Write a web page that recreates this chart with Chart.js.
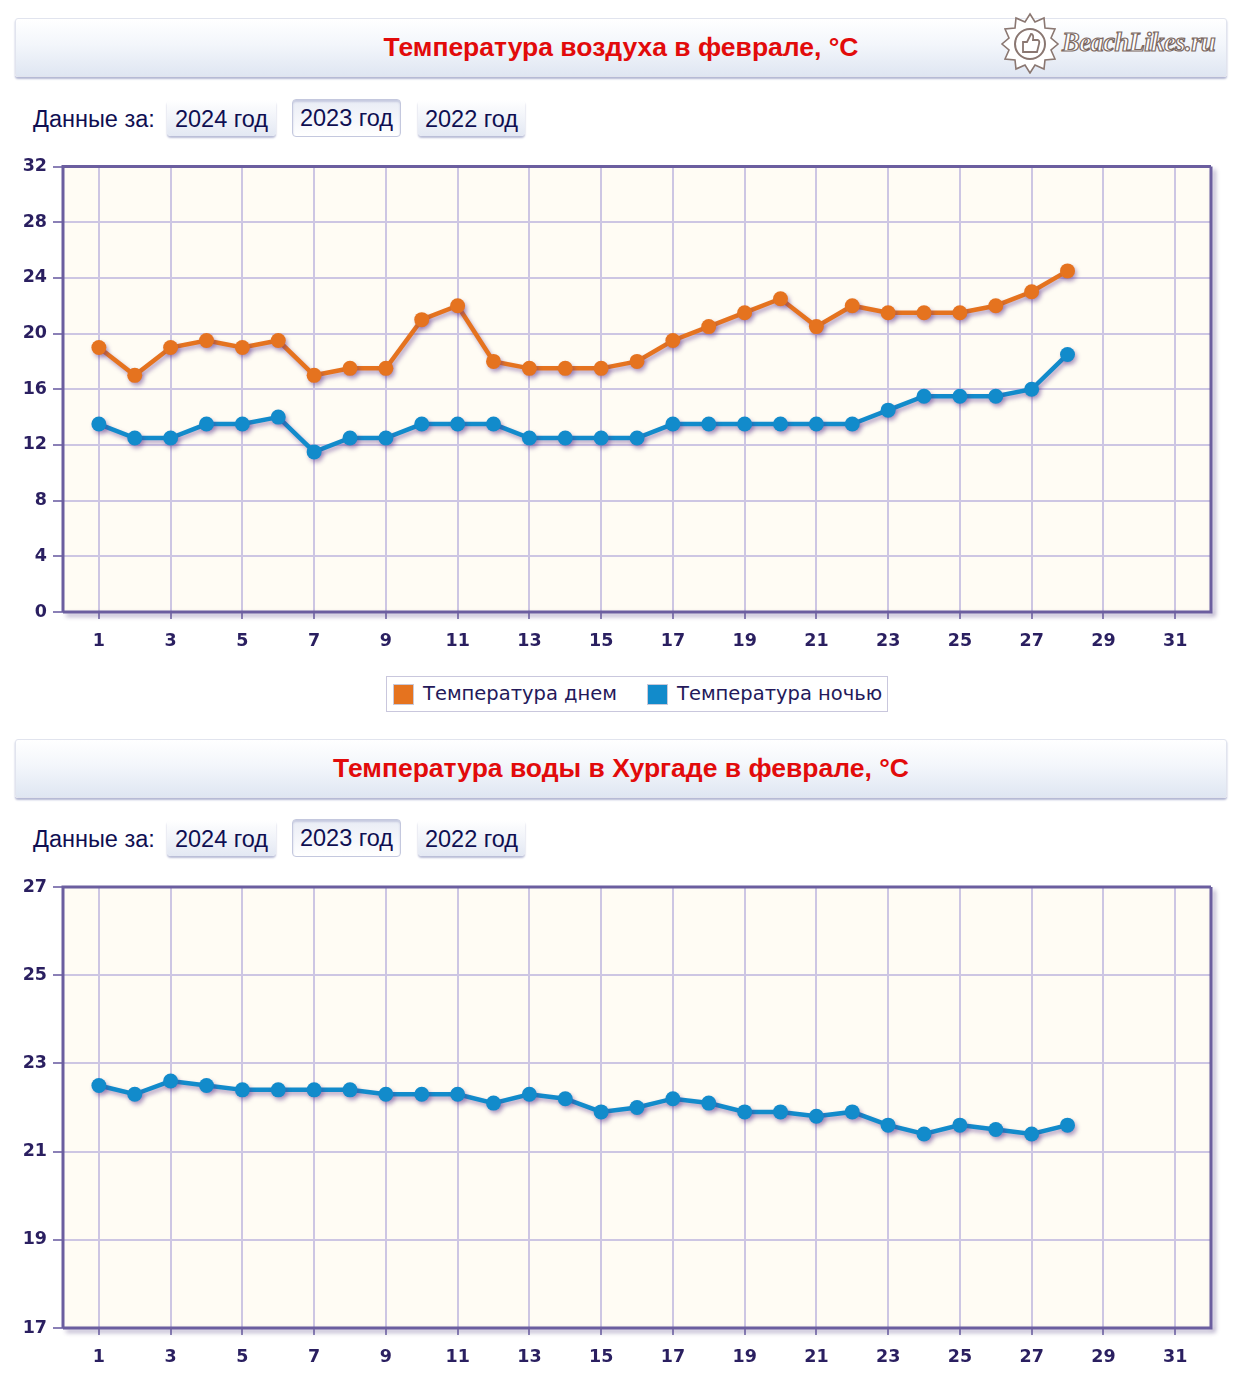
<!DOCTYPE html>
<html lang="ru">
<head>
<meta charset="utf-8">
<title>Температура в феврале</title>
<script src="https://cdn.jsdelivr.net/npm/chart.js@4.4.1/dist/chart.umd.min.js"></script>
<style>
  html, body { margin:0; padding:0; background:#ffffff; }
  body { width:1240px; height:1383px; position:relative; overflow:hidden; font-family:"Liberation Sans", Arial, sans-serif; }
  .bar { position:absolute; left:15px; width:1210px; height:57px; border:1px solid #e1e4ee; border-radius:3px;
         background:linear-gradient(#ffffff 0%, #f3f6fb 45%, #dfe6f2 100%); box-shadow:0 2px 2px #b3b7d3; }
  .bar .t { position:absolute; left:0; right:0; top:0; text-align:center; color:#e20b0b;
            font:bold 26.5px "Liberation Sans", Arial, sans-serif; line-height:56px; }
  .lbl { position:absolute; left:33px; font:23.5px "Liberation Sans", Arial, sans-serif; color:#0f0f52; }
  .btn { position:absolute; height:36px; text-align:center; font:23.5px "Liberation Sans", Arial, sans-serif; line-height:38px; color:#0f0f52;
         border-radius:4px; background:linear-gradient(#ffffff, #e3e8f3); box-shadow:0 2px 2px #b8bcd6; }
  .btn.sel { background:linear-gradient(#e9ecf5, #ffffff); border:1px solid #c4c8de; box-shadow:inset 0 2px 2px #c7cbe0; line-height:37px; }
  .cv { position:absolute; left:0; }
  .legend { position:absolute; left:386px; top:676px; width:500px; height:34px; border:1px solid #c9c7dd; background:#fff;
            font:19.5px "DejaVu Sans", Verdana, sans-serif; color:#24195a; }
  .legend span.sq { position:absolute; top:7px; width:19px; height:19px; border:1px solid #c9c9d9; }
  .legend span.tx { position:absolute; top:5px; }
  .logo { position:absolute; left:1000px; top:12px; width:230px; height:62px; }
  .logo .name { position:absolute; left:62px; top:15px; font:italic bold 26.5px "Liberation Serif", serif; color:#ffffff;
                -webkit-text-stroke:1.2px #7b6862; letter-spacing:-0.5px; }
</style>
</head>
<body>
<script>
// ---------- data ----------
const days = [1,2,3,4,5,6,7,8,9,10,11,12,13,14,15,16,17,18,19,20,21,22,23,24,25,26,27,28];
const xTickLabels = [1,3,5,7,9,11,13,15,17,19,21,23,25,27,29,31];
const airDayTemp   = [19,17,19,19.5,19,19.5,17,17.5,17.5,21,22,18,17.5,17.5,17.5,18,19.5,20.5,21.5,22.5,20.5,22,21.5,21.5,21.5,22,23,24.5];
const airNightTemp = [13.5,12.5,12.5,13.5,13.5,14,11.5,12.5,12.5,13.5,13.5,13.5,12.5,12.5,12.5,12.5,13.5,13.5,13.5,13.5,13.5,13.5,14.5,15.5,15.5,15.5,16,18.5];
const waterTemp    = [22.5,22.3,22.6,22.5,22.4,22.4,22.4,22.4,22.3,22.3,22.3,22.1,22.3,22.2,21.9,22.0,22.2,22.1,21.9,21.9,21.8,21.9,21.6,21.4,21.6,21.5,21.4,21.6];
const airYTicks   = [0,4,8,12,16,20,24,28,32];
const waterYTicks = [17,19,21,23,25,27];
const seriesNames = ["Температура днем", "Температура ночью"];
const titles = ["Температура воздуха в феврале, °C", "Температура воды в Хургаде в феврале, °C"];
const yearButtons = ["2024 год", "2023 год", "2022 год"];
const dataLabel = "Данные за:";
</script>

<div class="bar" style="top:18px;"><div class="t" id="t1"></div></div>
<div class="logo">
  <svg width="60" height="62" viewBox="0 0 60 62" style="position:absolute;left:0;top:0">
    <polygon points="30,2 35,10 44,6 45,16 55,17 51,26 58,32 51,38 55,47 45,48 44,57 35,53 30,61 25,53 16,57 15,48 5,47 9,38 2,32 9,26 5,17 15,16 16,6 25,10"
      fill="#ffffff" stroke="#8a7771" stroke-width="1.6"/>
    <circle cx="30" cy="32" r="15" fill="none" stroke="#8a7771" stroke-width="2"/>
    <path d="M23 40 L23 30 L27 30 L31 22 Q34 22 33 28 L38 28 Q40 29 39 32 L37 40 Z" fill="none" stroke="#8a7771" stroke-width="1.8"/>
  </svg>
  <div class="name">BeachLikes.ru</div>
</div>
<div class="lbl" style="top:106px;" id="l1"></div>
<div class="btn" style="left:167px;top:100px;width:109px;" id="b10"></div>
<div class="btn sel" style="left:292px;top:99px;width:107px;" id="b11"></div>
<div class="btn" style="left:418px;top:100px;width:107px;" id="b12"></div>
<canvas class="cv" id="c1" width="1240" height="510" style="top:150px"></canvas>
<div class="legend">
  <span class="sq" style="left:6px;background:#e5731f"></span><span class="tx" style="left:36px" id="lg0"></span>
  <span class="sq" style="left:260px;background:#128bcb"></span><span class="tx" style="left:290px" id="lg1"></span>
</div>

<div class="bar" style="top:739px;"><div class="t" id="t2"></div></div>
<div class="lbl" style="top:826px;" id="l2"></div>
<div class="btn" style="left:167px;top:820px;width:109px;" id="b20"></div>
<div class="btn sel" style="left:292px;top:819px;width:107px;" id="b21"></div>
<div class="btn" style="left:418px;top:820px;width:107px;" id="b22"></div>
<canvas class="cv" id="c2" width="1240" height="513" style="top:870px"></canvas>

<script>
document.getElementById('t1').textContent = titles[0];
document.getElementById('t2').textContent = titles[1];
document.getElementById('l1').textContent = dataLabel;
document.getElementById('l2').textContent = dataLabel;
yearButtons.forEach((y, i) => {
  document.getElementById('b1' + i).textContent = y;
  document.getElementById('b2' + i).textContent = y;
});
document.getElementById('lg0').textContent = seriesNames[0];
document.getElementById('lg1').textContent = seriesNames[1];

const ORANGE = '#e5731f', BLUE = '#128bcb';
const TICK_COLOR = '#2a1f60';
const GRID = '#cdc6e3';
const TICK_FONT = { family: '"DejaVu Sans", Verdana, sans-serif', size: 17.5, weight: 'bold' };

const plotDeco = {
  id: 'plotDeco',
  beforeDraw(chart) {
    const a = chart.chartArea, ctx = chart.ctx;
    ctx.save();
    ctx.fillStyle = '#fffcf4';
    ctx.fillRect(a.left, a.top, a.right - a.left, a.bottom - a.top);
    ctx.restore();
  },
  beforeDatasetsDraw(chart) {
    const a = chart.chartArea, ctx = chart.ctx;
    ctx.save();
    ctx.lineWidth = 3;
    ctx.strokeStyle = '#6b5e9f';
    ctx.shadowColor = 'rgba(70,50,120,0.45)';
    ctx.shadowBlur = 4; ctx.shadowOffsetX = 3; ctx.shadowOffsetY = 3;
    ctx.beginPath();
    ctx.moveTo(a.right, a.top); ctx.lineTo(a.right, a.bottom); ctx.lineTo(a.left, a.bottom);
    ctx.stroke();
    ctx.shadowColor = 'transparent';
    ctx.beginPath();
    ctx.moveTo(a.left, a.bottom); ctx.lineTo(a.left, a.top); ctx.lineTo(a.right, a.top);
    ctx.stroke();
    ctx.restore();
  },
  beforeDatasetDraw(chart) {
    const ctx = chart.ctx;
    ctx.save();
    ctx.shadowColor = 'rgba(90,50,140,0.45)';
    ctx.shadowBlur = 4; ctx.shadowOffsetX = 2; ctx.shadowOffsetY = 3;
  },
  afterDatasetDraw(chart) { chart.ctx.restore(); }
};

function makeOptions(yMin, yMax, yTicks, padTop, xAxisHeight) {
  return {
    responsive: false, animation: false, devicePixelRatio: 1,
    layout: { padding: { top: padTop, left: 0, right: 29, bottom: 0 } },
    plugins: { legend: { display: false }, tooltip: { enabled: false } },
    scales: {
      x: {
        type: 'linear', min: 0, max: 32,
        afterBuildTicks(s) { s.ticks = xTickLabels.map(v => ({ value: v })); },
        afterFit(s) { s.height = xAxisHeight; },
        grid: { color: GRID, lineWidth: 2, tickLength: 7, tickColor: '#9088bb', drawTicks: true },
        border: { display: false },
        ticks: { color: TICK_COLOR, padding: 12, font: TICK_FONT, maxRotation: 0, autoSkip: false }
      },
      y: {
        min: yMin, max: yMax,
        afterBuildTicks(s) { s.ticks = yTicks.map(v => ({ value: v })); },
        afterFit(s) { s.width = 63; },
        grid: { color: GRID, lineWidth: 2, tickLength: 10, tickColor: '#8a80b6', drawTicks: true },
        border: { display: false },
        ticks: { color: TICK_COLOR, padding: 6, font: TICK_FONT }
      }
    }
  };
}

function ds(label, values, color) {
  return {
    label, data: days.map((d, i) => ({ x: d, y: values[i] })),
    borderColor: color, backgroundColor: color, borderWidth: 4.5,
    pointRadius: 7.5, pointBackgroundColor: color, pointBorderWidth: 0, pointHoverRadius: 7.5,
    tension: 0, clip: false
  };
}

new Chart(document.getElementById('c1'), {
  type: 'line',
  data: { datasets: [ ds(seriesNames[0], airDayTemp, ORANGE), ds(seriesNames[1], airNightTemp, BLUE) ] },
  options: makeOptions(0, 32, airYTicks, 16, 48),
  plugins: [plotDeco]
});

new Chart(document.getElementById('c2'), {
  type: 'line',
  data: { datasets: [ ds('Температура воды', waterTemp, BLUE) ] },
  options: makeOptions(17, 27, waterYTicks, 17, 55),
  plugins: [plotDeco]
});
</script>
</body>
</html>
